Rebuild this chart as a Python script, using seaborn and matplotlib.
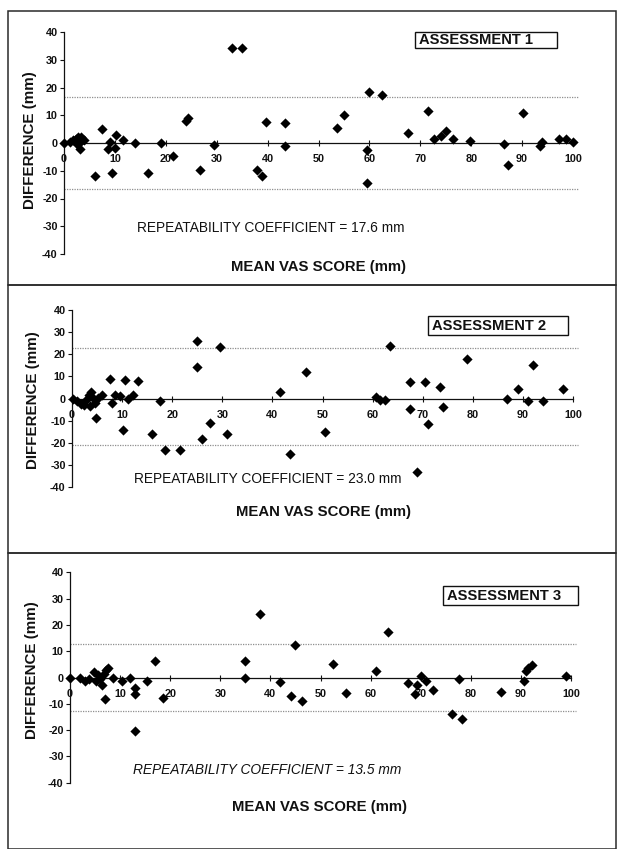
import numpy as np
import pandas as pd
import matplotlib
matplotlib.use("Agg")
import matplotlib.pyplot as plt
import seaborn as sns
from matplotlib.patches import Rectangle

# ---------------- data ----------------
a1_mean = [0.0, 1.2, 1.8, 2.3, 2.8, 3.3, 3.6, 2.9, 3.2, 4.0, 2.5,
           7.5, 6.0, 8.7, 9.0, 10.0, 9.5, 10.3, 11.5, 14.0, 16.6, 19.0, 21.4,
           24.0, 24.4, 26.8, 29.4, 33.0, 34.9, 37.9, 38.9, 39.6, 43.5, 43.5,
           53.6, 55.0, 60.0, 62.5, 59.5, 59.5, 67.5, 71.6, 72.6, 74.0, 75.0,
           76.5, 79.8, 86.4, 87.2, 90.1, 93.6, 94.0, 97.3, 98.6, 100.0]
a1_diff = [0.0, 0.5, 1.0, 1.5, 2.0, 2.0, 1.0, 0.0, -2.0, 1.2, -0.3,
           5.0, -12.0, -2.3, 0.5, -1.7, -10.7, 2.9, 1.0, 0.0, -10.8, 0.0, -4.7,
           8.0, 9.1, -9.7, -0.8, 34.3, 34.3, -9.7, -11.8, 7.4, 7.1, -1.0,
           5.3, 10.1, 18.3, 17.3, -2.5, -14.3, 3.5, 11.5, 1.3, 2.5, 4.3,
           1.3, 0.8, -0.4, -7.9, 10.7, -1.0, 0.5, 1.3, 1.3, 0.5]

a2_mean = [0.2, 1.0, 1.7, 2.3, 2.8, 3.3, 3.8, 3.5, 4.2, 4.6, 5.2, 6.0, 4.7,
           7.6, 8.0, 8.6, 9.6, 10.6, 10.2, 11.2, 12.2, 13.1, 17.6, 16.0, 18.6,
           21.6, 25.0, 25.0, 26.0, 27.5, 29.5, 30.9, 41.5, 43.5, 46.7, 50.5,
           63.5, 60.7, 61.5, 62.5, 67.5, 67.5, 70.5, 71.1, 68.8, 73.5, 74.1,
           78.8, 86.8, 89.0, 91.1, 92.1, 94.1, 98.0]
a2_diff = [0.0, -1.0, -2.2, -3.0, -0.5, 1.5, 3.0, -3.5, 0.5, -2.0, 0.5, 1.5, -8.6,
           9.0, -2.1, 1.8, 1.0, 8.6, -14.3, -0.2, 1.8, 7.8, -1.2, -15.8, -23.0,
           -23.0, 25.9, 14.1, -18.2, -11.0, 23.2, -15.8, 3.0, -25.0, 11.9, -15.0,
           23.6, 0.6, -0.5, -0.7, 7.5, -4.7, 7.5, -11.4, -33.2, 5.3, -3.9,
           17.9, 0.0, 4.5, -1.0, 15.0, -1.2, 4.5]

a3_mean = [0.0, 2.0, 3.0, 3.8, 4.7, 5.2, 5.6, 6.3, 6.0, 6.8, 7.2, 7.6, 7.0,
           8.6, 10.3, 12.0, 13.0, 13.0, 13.0, 15.4, 17.0, 18.6, 34.9, 34.9,
           37.9, 42.0, 44.2, 45.0, 46.4, 52.4, 55.0, 61.1, 63.5, 67.5, 68.9,
           69.3, 70.0, 71.0, 72.5, 76.2, 78.2, 77.6, 86.0, 90.6, 91.0, 91.5,
           92.2, 99.0]
a3_diff = [0.0, 0.0, -1.3, -0.6, 2.0, -1.5, 1.0, -2.7, -0.5, 1.5, 3.0, 3.6, -8.1,
           0.0, -1.3, 0.0, -4.0, -6.3, -20.3, -1.3, 6.1, -7.8, 6.1, 0.0,
           24.1, -1.7, -7.2, 12.3, -9.1, 5.1, -5.9, 2.3, 17.3, -2.1, -6.3,
           -2.8, 0.6, -1.5, -4.7, -13.8, -15.8, -0.6, -5.7, -1.5, 2.3, 3.6,
           4.8, 0.6]

limits_upper = [16.6, 23.0, 12.7]
limits_lower = [-16.6, -21.0, -12.9]
panel_titles = ["ASSESSMENT 1", "ASSESSMENT 2", "ASSESSMENT 3"]
coef_texts = ["REPEATABILITY COEFFICIENT = 17.6 mm",
              "REPEATABILITY COEFFICIENT = 23.0 mm",
              "REPEATABILITY COEFFICIENT = 13.5 mm"]
x_ticks = list(range(0, 101, 10))
y_ticks = list(range(-40, 41, 10))

# ---------------- figure ----------------
sns.set_theme(style="white")
plt.rcParams["font.family"] = ["Liberation Sans", "DejaVu Sans"]

W, H = 621, 849
fig = plt.figure(figsize=(W / 100, H / 100), dpi=100)
fig.patch.set_facecolor("white")

def fx(px):
    return px / W

def fy(py):
    return 1 - py / H

XMAX = 104
panels = [
    dict(mean=a1_mean, diff=a1_diff, x0=64, xs=5.09, ytop=32, ybot=254,
         frame=(11, 285), coef=(271, 228), coef_style="normal",
         xlab=(319, 267), ylab=(30, 140), box=(415, 557, 32, 48)),
    dict(mean=a2_mean, diff=a2_diff, x0=72, xs=5.01, ytop=310, ybot=487.3,
         frame=(285, 553), coef=(268, 479), coef_style="normal",
         xlab=(323, 512), ylab=(33, 400), box=(428, 568, 316, 335)),
    dict(mean=a3_mean, diff=a3_diff, x0=70, xs=5.01, ytop=572.3, ybot=782.7,
         frame=(553, 848.5), coef=(267, 770), coef_style="italic",
         xlab=(320, 807), ylab=(32, 670), box=(443, 578, 586, 605)),
]

for i, p in enumerate(panels):
    # panel frame
    t, b = p["frame"]
    fig.add_artist(Rectangle((fx(8), fy(b)), fx(616 - 8), (b - t) / H,
                             transform=fig.transFigure, fill=False,
                             edgecolor="#2a2a2a", linewidth=1.1))

    ax = fig.add_axes([fx(p["x0"]), fy(p["ybot"]),
                       XMAX * p["xs"] / W, (p["ybot"] - p["ytop"]) / H])
    ax.set_facecolor("none")
    df = pd.DataFrame({"mean": p["mean"], "diff": p["diff"]})
    sns.scatterplot(data=df, x="mean", y="diff", ax=ax, marker="D", s=27,
                    color="black", edgecolor="black", linewidth=0,
                    clip_on=False, zorder=3)
    ax.hlines([limits_upper[i], limits_lower[i]], 0, 101,
              colors="#8f8f8f", linestyles=(0, (1, 1)), linewidth=0.9,
              zorder=1)

    ax.set_xlim(0, XMAX)
    ax.set_ylim(-40, 40)
    ax.set_xlabel("")
    ax.set_ylabel("")
    for s in ["top", "right"]:
        ax.spines[s].set_visible(False)
    ax.spines["bottom"].set_position(("data", 0))
    ax.spines["bottom"].set_bounds(0, 100)
    for s in ["left", "bottom"]:
        ax.spines[s].set_color("#111111")
        ax.spines[s].set_linewidth(0.9)
    ax.set_xticks(x_ticks)
    ax.set_yticks(y_ticks)
    ax.set_xticklabels([str(v) for v in x_ticks])
    ax.set_yticklabels([str(v) for v in y_ticks])
    ax.tick_params(axis="x", direction="inout", length=4, width=0.8,
                   pad=6, labelsize=7.8, colors="#111111", bottom=True)
    ax.tick_params(axis="y", direction="out", length=3, width=0.8,
                   pad=1.5, labelsize=7.8, colors="#111111", left=True)
    for lab in ax.get_xticklabels() + ax.get_yticklabels():
        lab.set_fontweight("bold")

    # texts
    fig.text(fx(p["coef"][0]), fy(p["coef"][1]), coef_texts[i],
             ha="center", va="center", fontsize=9.95, style=p["coef_style"],
             color="#111111")
    fig.text(fx(p["xlab"][0]), fy(p["xlab"][1]), "MEAN VAS SCORE (mm)",
             ha="center", va="center", fontsize=10.7, fontweight="bold",
             color="#111111")
    fig.text(fx(p["ylab"][0]), fy(p["ylab"][1]), "DIFFERENCE (mm)",
             ha="center", va="center", fontsize=10.9, fontweight="bold",
             rotation=90, color="#111111")
    bx0, bx1, by0, by1 = p["box"]
    fig.add_artist(Rectangle((fx(bx0), fy(by1)), fx(bx1 - bx0), (by1 - by0) / H,
                             transform=fig.transFigure, fill=False,
                             edgecolor="#111111", linewidth=1.0))
    fig.text(fx(bx0 + 4), fy((by0 + by1) / 2), panel_titles[i],
             ha="left", va="center", fontsize=10.6, fontweight="bold",
             color="#111111")

fig.savefig("out.png", dpi=100, facecolor="white")
